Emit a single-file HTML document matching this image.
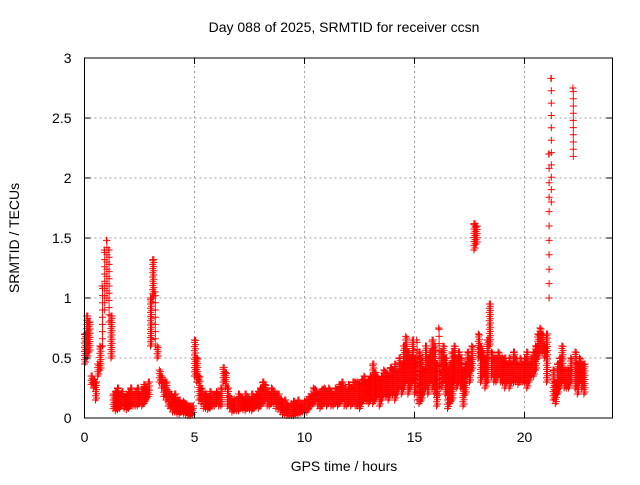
<!DOCTYPE html>
<html><head><meta charset="utf-8"><style>
body{margin:0;background:#fff;font-family:"Liberation Sans",sans-serif}
svg text{font-family:"Liberation Sans",sans-serif;font-size:14px;fill:#000}
</style></head><body>
<svg width="640" height="480">
<rect width="640" height="480" fill="#fff"/>
<g id="grid"></g><g id="pts"></g><g id="axes"></g>
<text x="344" y="32" text-anchor="middle">Day 088 of 2025, SRMTID for receiver ccsn</text>
<text x="344" y="471" text-anchor="middle">GPS time / hours</text>
<text transform="translate(19,238) rotate(-90)" text-anchor="middle">SRMTID / TECUs</text>
</svg>
<script>
const xTicks=[0,5,10,15,20];
const yTicks=[0,0.5,1,1.5,2,2.5,3];
const yTickLabels=["0","0.5","1","1.5","2","2.5","3"];
const startHour=0, stepHour=0.1;
const lo=[.45,.5,.55,.28,.25,.15,.35,.4,.6,.9,
1.0,.8,.5,.08,.06,.07,.08,.1,.08,.07,
.08,.1,.1,.1,.1,.12,.1,.12,.15,.18,
.6,1.0,.6,.5,.3,.25,.18,.15,.1,.08,
.05,.05,.04,.03,.05,.04,.03,.02,.02,.03,
.35,.3,.15,.12,.08,.08,.07,.08,.1,.1,
.12,.1,.1,.3,.25,.1,.08,.05,.06,.06,
.06,.08,.07,.06,.08,.07,.06,.08,.09,.08,
.1,.12,.15,.1,.1,.12,.12,.08,.08,.05,
.03,.03,.02,.02,.02,.02,.03,.03,.04,.05,
.05,.05,.08,.1,.12,.14,.1,.08,.1,.12,
.1,.12,.1,.1,.12,.1,.12,.15,.1,.1,
.12,.1,.12,.1,.1,.08,.12,.15,.14,.12,
.15,.12,.15,.18,.1,.15,.2,.18,.15,.2,
.2,.15,.2,.25,.2,.25,.3,.2,.25,.3,
.2,.15,.12,.15,.2,.25,.2,.3,.25,.2,
.1,.2,.25,.3,.2,.08,.12,.15,.3,.25,
.3,.25,.1,.2,.35,.3,.4,1.4,1.45,.5,
.3,.35,.25,.3,.6,.35,.3,.3,.35,.3,
.3,.25,.3,.25,.3,.3,.3,.28,.3,.3,
.3,.25,.3,.35,.35,.4,.5,.55,.55,.5,
.3,1.0,1.8,.15,.12,.2,.25,.3,.25,.25,
.25,.3,2.18,.25,.2,.3,.25,.2];
const hi=[.7,.85,.8,.35,.32,.3,.45,.6,1.1,1.4,
1.48,1.4,.85,.2,.22,.25,.2,.22,.18,.2,
.22,.25,.2,.22,.25,.2,.24,.28,.25,.3,
1.0,1.32,1.05,.6,.4,.35,.3,.3,.22,.2,
.18,.2,.15,.15,.12,.14,.12,.1,.1,.1,
.65,.5,.35,.25,.2,.2,.18,.22,.2,.2,
.22,.2,.25,.42,.38,.25,.18,.15,.16,.15,
.2,.18,.17,.2,.18,.16,.2,.18,.2,.22,
.25,.3,.28,.22,.2,.25,.22,.2,.2,.16,
.12,.15,.12,.1,.12,.14,.12,.15,.12,.12,
.14,.15,.18,.2,.25,.24,.2,.22,.24,.25,
.22,.25,.22,.2,.25,.24,.28,.3,.25,.22,
.28,.25,.3,.3,.3,.28,.32,.35,.3,.32,
.35,.45,.38,.35,.32,.35,.4,.38,.35,.42,
.4,.45,.38,.5,.45,.6,.68,.55,.5,.65,
.5,.65,.55,.5,.4,.6,.5,.55,.65,.6,
.45,.75,.55,.6,.5,.4,.45,.55,.6,.5,
.55,.5,.4,.45,.55,.5,.6,1.62,1.6,.7,
.6,.55,.5,.65,.95,.55,.5,.5,.55,.5,
.5,.5,.45,.5,.45,.55,.5,.45,.5,.45,
.5,.55,.45,.5,.55,.6,.7,.75,.7,.6,
.7,2.2,2.83,.4,.3,.45,.5,.6,.4,.4,
.4,.5,2.75,.55,.45,.5,.45,.45];
const X0=84.5,X1=612.5,Y0=418,Y1=58,XMAX=24,YMAX=3;
const sx=v=>X0+(X1-X0)*v/XMAX, sy=v=>Y0-(Y0-Y1)*v/YMAX;
const NS="http://www.w3.org/2000/svg";
function mk(tag,attrs,parent){const e=document.createElementNS(NS,tag);for(const k in attrs)e.setAttribute(k,attrs[k]);parent.appendChild(e);return e;}
const grid=document.getElementById('grid'),axes=document.getElementById('axes'),pts=document.getElementById('pts');
xTicks.forEach((t,i)=>{const x=sx(t);
 if(t>0){const g=mk('line',{x1:x,x2:x,y1:Y0,y2:Y1,stroke:'#a0a0a0','stroke-dasharray':'2,3'},grid);
 
 }
 mk('line',{x1:x,x2:x,y1:Y0,y2:Y0-6,stroke:'#000'},axes);
 mk('line',{x1:x,x2:x,y1:Y1,y2:Y1+6,stroke:'#000'},axes);
 const l=mk('text',{x:x,y:Y0+24,'text-anchor':'middle'},axes);l.textContent=t;
 
 });
yTicks.forEach((t,i)=>{const y=sy(t);
 if(t>0&&t<YMAX){const g=mk('line',{x1:X0,x2:X1,y1:y,y2:y,stroke:'#a0a0a0','stroke-dasharray':'2,3'},grid);
 
 }
 mk('line',{x1:X0,x2:X0+6,y1:y,y2:y,stroke:'#000'},axes);
 mk('line',{x1:X1,x2:X1-6,y1:y,y2:y,stroke:'#000'},axes);
 const l=mk('text',{x:X0-13,y:y+5,'text-anchor':'end'},axes);l.textContent=yTickLabels[i];
 
 });
const fr=mk('rect',{x:X0,y:Y1,width:X1-X0,height:Y0-Y1,fill:'none',stroke:'#000'},axes);


let d='';
function plus(x,y){d+=`M${(x-3.5).toFixed(1)} ${y.toFixed(1)}h7M${x.toFixed(1)} ${(y-3.5).toFixed(1)}v7`;}
lo.forEach((l,i)=>{const t=startHour+i*stepHour;const h=hi[i];
 const span=h-l;
 if(span>0.45){
  const st=Math.max(0.06,span/10);
  for(let v=l;v<=h+1e-9;v+=st){plus(sx(t+0.02),sy(v));}
 } else {
  for(let v=l;v<=h+1e-9;v+=0.035){plus(sx(t),sy(v));plus(sx(t+0.05),sy(Math.min(h,v+0.017)));}
 }
 plus(sx(t),sy(h));});
const p=mk('path',{d:d,stroke:'#ff0000','stroke-width':1,fill:'none'},pts);


</script>
</body></html>
